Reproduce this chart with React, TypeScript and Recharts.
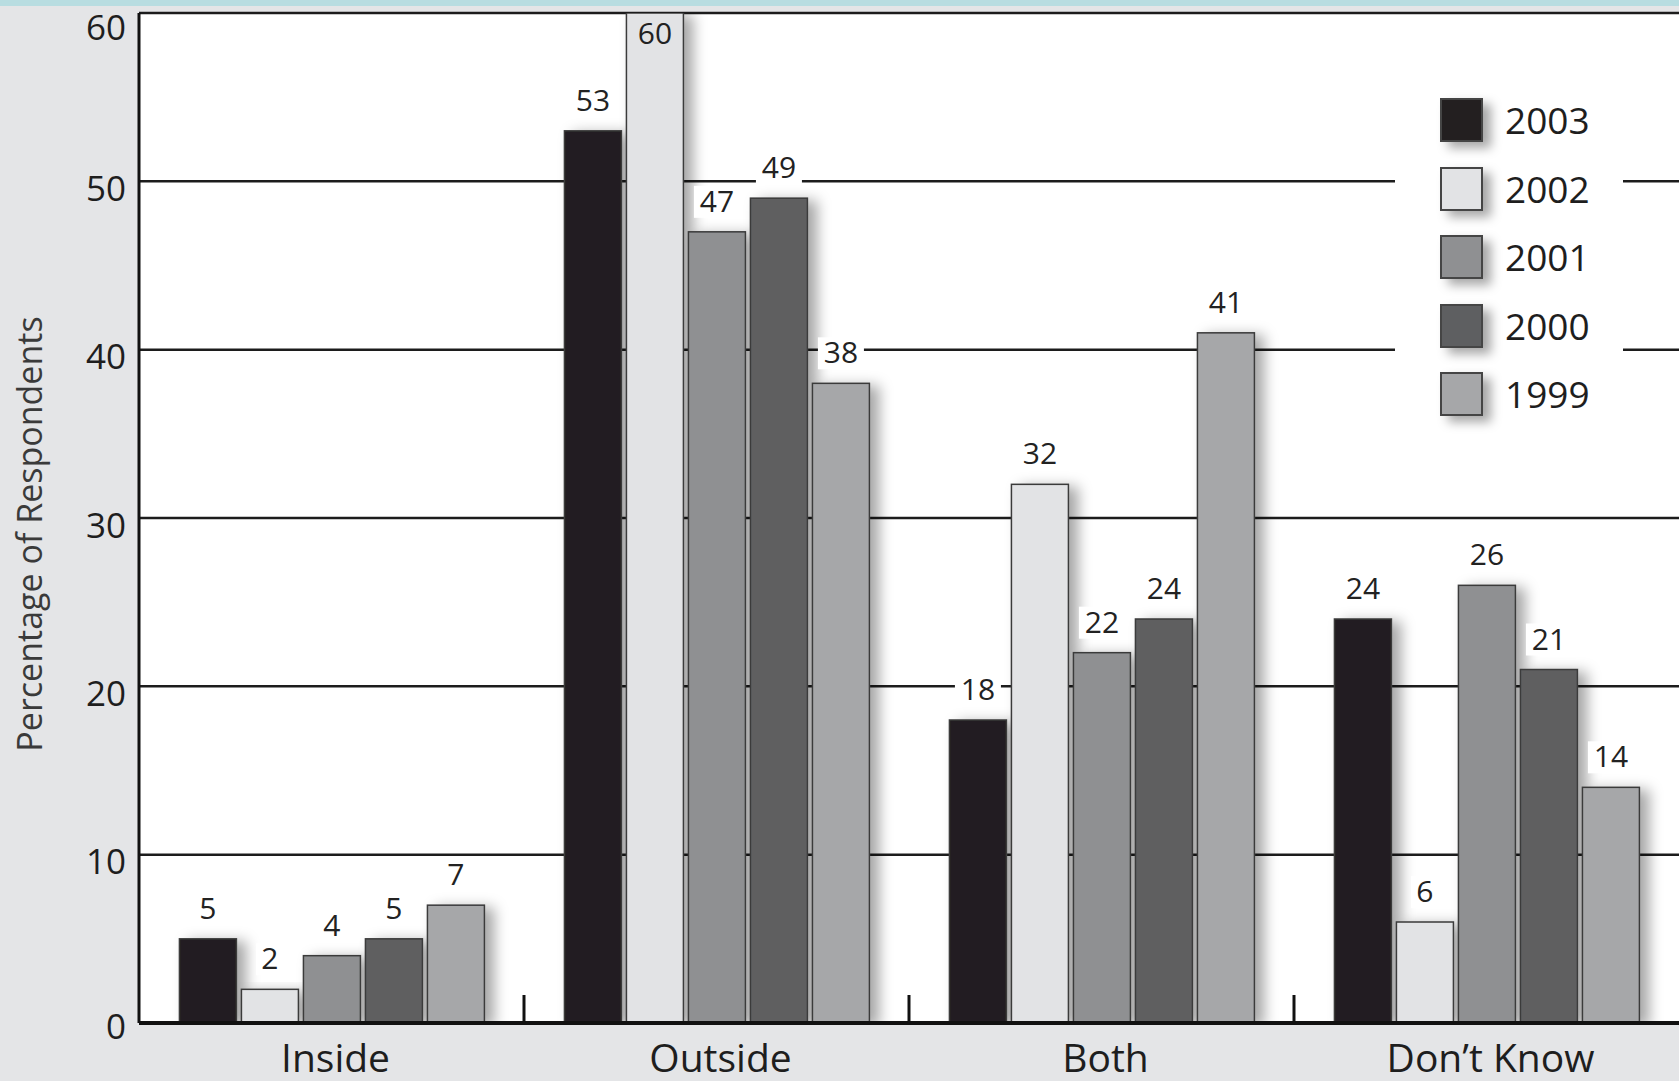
import React from 'react';
import { BarChart, Bar, XAxis, YAxis, CartesianGrid, Legend, LabelList } from 'recharts';

const categories = ['Inside', 'Outside', 'Both', 'Don\u2019t Know'];
const years = ['2003', '2002', '2001', '2000', '1999'];
const values2003 = [5, 53, 18, 24];
const values2002 = [2, 60, 32, 6];
const values2001 = [4, 47, 22, 26];
const values2000 = [5, 49, 24, 21];
const values1999 = [7, 38, 41, 14];
const yTicks = [0, 10, 20, 30, 40, 50, 60];
const yearColors: Record<string, string> = {
  '2003': '#231f20',
  '2002': '#e2e3e5',
  '2001': '#8f9092',
  '2000': '#5e5f61',
  '1999': '#a6a7a9',
};

const data = categories.map((c, i) => ({
  category: c,
  y2003: values2003[i],
  y2002: values2002[i],
  y2001: values2001[i],
  y2000: values2000[i],
  y1999: values1999[i],
}));

const FONT = '"Open Sans", "DejaVu Sans", sans-serif';
const W = 1679;
const H = 1081;
const YAXIS_W = 139;
const BAND = (W - YAXIS_W) / categories.length;

const XTick = (props: any) => {
  const { x, y, payload, index } = props;
  return (
    <g>
      <text x={x + 4} y={y + 49} textAnchor="middle" fontSize={39} fill="#1e1e1e" fontFamily={FONT}>
        {payload.value}
      </text>
      {index < categories.length - 1 && (
        <line x1={x + BAND / 2} x2={x + BAND / 2} y1={y} y2={y - 28} stroke="#111" strokeWidth={3} />
      )}
    </g>
  );
};

const YTick = (props: any) => {
  const { x, y, payload } = props;
  const dy = payload.value === 60 ? 13 : payload.value === 0 ? 2 : 6;
  return (
    <text x={x} y={y + dy} textAnchor="end" dominantBaseline="central" fontSize={35} fill="#1e1e1e" fontFamily={FONT}>
      {payload.value}
    </text>
  );
};

const ValueLabel = (p: any) => {
  const vb = p.viewBox || p;
  const x = Number(vb.x);
  const y = Number(vb.y);
  const w = Number(vb.width);
  const v = Number(p.value);
  const cx = x + w / 2;
  if (v >= 60) {
    return (
      <text x={cx} y={y + 31} textAnchor="middle" fontSize={30} fill="#222" fontFamily={FONT}>
        {v}
      </text>
    );
  }
  const tw = String(v).length * 18 + 10;
  return (
    <g>
      <rect x={cx - tw / 2} y={y - 46} width={tw} height={32} fill="#ffffff" />
      <text x={cx} y={y - 20} textAnchor="middle" fontSize={30} fill="#222" fontFamily={FONT}>
        {v}
      </text>
    </g>
  );
};

const BarShape = (p: any) => {
  const { x, y, width, height, fill } = p;
  if (!height || height <= 0) return null;
  return (
    <rect
      x={x}
      y={y}
      width={width}
      height={height}
      fill={fill}
      stroke="#3a3a3a"
      strokeWidth={1.5}
      filter="url(#barShadow)"
    />
  );
};

const LegendContent = () => {
  const items = years.map((y) => ({ label: y, color: yearColors[y] }));
  return (
    <div style={{ position: 'relative', width: 228, height: 360, background: '#ffffff' }}>
      {items.map((it, i) => (
        <div
          key={it.label}
          style={{
            position: 'absolute',
            left: 45,
            top: 18 + i * 68.5,
            height: 44,
            display: 'flex',
            alignItems: 'center',
          }}
        >
          <div
            style={{
              width: 43,
              height: 44,
              background: it.color,
              border: '2px solid #454545',
              boxSizing: 'border-box',
              boxShadow: '8px 6px 10px rgba(0,0,0,0.35)',
            }}
          />
          <span style={{ marginLeft: 22, fontSize: 37, fontFamily: FONT, color: '#1e1e1e', lineHeight: '44px' }}>
            {it.label}
          </span>
        </div>
      ))}
    </div>
  );
};

export default function App() {
  return (
    <div style={{ position: 'absolute', left: 0, top: 0, width: W, height: H, background: '#e4e5e7', overflow: 'hidden' }}>
      <div style={{ position: 'absolute', left: 0, top: 0, width: W, height: 6, background: '#b8dde1' }} />
      <svg style={{ position: 'absolute', left: 0, top: 0 }} width={W} height={H}>
        <defs>
          <filter id="barShadow" x="-60%" y="-20%" width="220%" height="140%">
            <feDropShadow dx={9} dy={3} stdDeviation={7} floodColor="#000" floodOpacity={0.35} />
          </filter>
        </defs>
        <text
          x={29}
          y={534}
          transform="rotate(-90 29 534)"
          textAnchor="middle"
          dominantBaseline="central"
          fontSize={34}
          fill="#3a3a3a"
          fontFamily={FONT}
        >
          Percentage of Respondents
        </text>
      </svg>
      <div style={{ position: 'absolute', left: 0, top: 0 }}>
        <BarChart
          width={W}
          height={H}
          data={data}
          margin={{ top: 13, right: 0, left: 0, bottom: 0 }}
          barCategoryGap="10.5%"
          barGap={5}
        >
          <CartesianGrid vertical={false} stroke="#1c1c1c" strokeWidth={2.5} fill="#ffffff" fillOpacity={1} />
          <XAxis
            dataKey="category"
            height={58}
            tick={<XTick />}
            tickLine={false}
            tickSize={0}
            tickMargin={0}
            axisLine={{ stroke: '#111', strokeWidth: 4 }}
            interval={0}
          />
          <YAxis
            width={YAXIS_W}
            domain={[0, 60]}
            ticks={yTicks}
            tick={<YTick />}
            tickLine={false}
            tickMargin={7}
            axisLine={{ stroke: '#111', strokeWidth: 3 }}
            allowDataOverflow
          />
          <Legend
            layout="horizontal"
            verticalAlign="middle"
            align="center"
            content={<LegendContent />}
            wrapperStyle={{ position: 'absolute', left: 1395, top: 80, width: 228, height: 360 }}
          />
          {years.map((yr) => (
            <Bar
              key={yr}
              dataKey={`y${yr}`}
              name={yr}
              fill={yearColors[yr]}
              isAnimationActive={false}
              shape={<BarShape />}
            >
              <LabelList dataKey={`y${yr}`} content={<ValueLabel />} />
            </Bar>
          ))}
        </BarChart>
      </div>
    </div>
  );
}
